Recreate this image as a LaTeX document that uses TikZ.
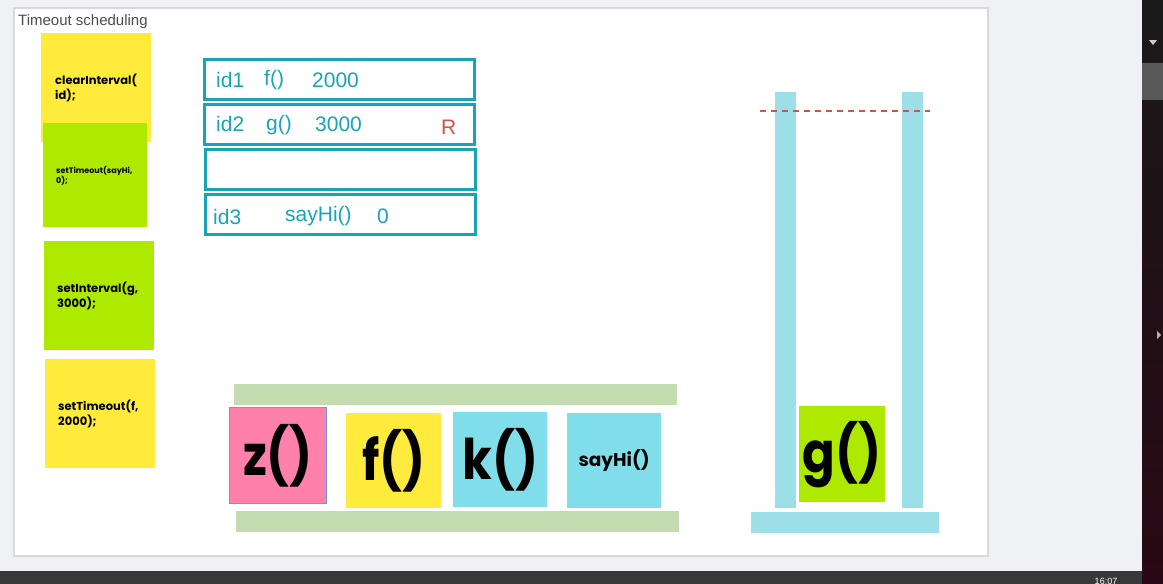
\documentclass[tikz,border=0pt]{standalone}
\usepackage{fontspec}
\setmainfont{Liberation Sans}
\newfontfamily\notefont{Poppins}
\newfontfamily\bigfont[FakeStretch=0.86]{Poppins}
\usetikzlibrary{positioning}

\definecolor{paper}{HTML}{EFF1F4}
\definecolor{sticky}{HTML}{FFEB3B}
\definecolor{lime}{HTML}{AEEA00}
\definecolor{slotcol}{HTML}{17A5B6}
\definecolor{pinky}{HTML}{FF80AB}
\definecolor{cyanbox}{HTML}{80DEEA}
\definecolor{sage}{HTML}{C5DCB0}
\definecolor{pillar}{HTML}{9DDFE8}
\definecolor{dashred}{HTML}{D0524B}

\tikzset{
  note/.style={anchor=north west, inner sep=0pt, minimum width=110, minimum height=109},
  notetext/.style={inner sep=0pt, align=left, font=\notefont\bfseries\fontsize{11.5}{15}\selectfont},
  slot/.style={anchor=north west, draw=slotcol, line width=3pt, minimum width=270, minimum height=40, inner sep=0pt},
  cell/.style={anchor=west, inner sep=0pt, text=slotcol, font=\fontsize{21}{22}\selectfont},
  fn/.style={anchor=north west, inner sep=0pt, minimum width=95, minimum height=95,
    font=\bigfont\bfseries\fontsize{56}{56}\selectfont}
}

\begin{document}
\begin{tikzpicture}[x=1pt,y=-1pt]
  \useasboundingbox (0,0) rectangle (1163,584);
  % screen around the board
  \fill[paper] (0,0) rectangle (1142,571);
  \shade[top color=black!90, bottom color={rgb,255:red,40;green,8;blue,20}] (1142,0) rectangle (1163,584);
  \fill[gray!70!black] (1142,63) rectangle (1163,100);
  \fill[white!80!black] (1149,40) -- (1157,40) -- (1153,45) -- cycle;
  \fill[white!70!black] (1157,331) -- (1161,335) -- (1157,339) -- cycle;
  \fill[black!78] (0,571) rectangle (1142,584);
  \node[text=white, font=\fontsize{9}{9}\selectfont, anchor=base] (clock) at (1106,584) {16:07};

  % board
  \filldraw[fill=white, draw=black!15, line width=1.2pt] (14,8) rectangle (988,556);
  \node[anchor=north west, inner sep=0pt, text=black!70, font=\fontsize{15}{15}\selectfont] (title) at (18,14) {Timeout scheduling};

  % sticky notes
  \node[note, fill=sticky] (clr) at (41,33) {};
  \node[notetext, right=14pt of clr.west] (clrt) {clearInterval(\\id);};
  \node[note, fill=lime, minimum width=104, minimum height=104] (say) at (43,123) {};
  \node[notetext, right=13pt of say.west, font=\notefont\bfseries\fontsize{8}{10}\selectfont] (sayt) {setTimeout(sayHi,\\0);};
  \node[note, fill=lime] (intv) at (44,241) {};
  \node[notetext, right=13pt of intv.west] (intvt) {setInterval(g,\\3000);};
  \node[note, fill=sticky] (tout) at (45,359) {};
  \node[notetext, right=13pt of tout.west] (toutt) {setTimeout(f,\\2000);};

  % timer table
  \node[slot] (r1) at (203,58) {};
  \node[slot] (r2) at (203,103) {};
  \node[slot] (r3) at (204,148) {};
  \node[slot] (r4) at (204,193) {};
  \node[cell] (id1) at (216,80) {id1};
  \node[cell] (f1) at (264,80) {f()};
  \node[cell] (t1) at (312,80) {2000};
  \node[cell] (id2) at (216,124) {id2};
  \node[cell] (g2) at (266,125) {g()};
  \node[cell] (t2) at (315,124) {3000};
  \node[cell, text=dashred] (rep) at (441,127) {R};
  \node[cell] (id3) at (213,217) {id3};
  \node[cell] (s3) at (285,216) {sayHi()};
  \node[cell] (t3) at (377,216) {0};

  % call stack
  \fill[sage] (234,384) rectangle (677,405);
  \fill[sage] (236,511) rectangle (679,532);
  \node[fn, fill=pinky, draw={rgb,255:red,110;green,150;blue,240}, line width=1pt, minimum width=97, minimum height=96] (z) at (229,407) {z()};
  \node[fn, fill=sticky] (f) at (346,413) {f()};
  \node[fn, fill=cyanbox, minimum width=94] (k) at (453,412) {k()};
  \node[fn, fill=cyanbox, minimum width=94, font=\notefont\bfseries\fontsize{18.5}{18.5}\selectfont] (hi) at (567,413) {sayHi()};

  % queue
  \fill[pillar] (775,92) rectangle (796,508);
  \fill[pillar] (902,92) rectangle (923,508);
  \fill[pillar] (751,512) rectangle (939,533);
  \draw[draw=dashred, dash pattern=on 6pt off 5pt, line width=1.2pt] (760,111) -- (930,111);
  \node[fn, fill=lime, minimum width=86, minimum height=96] (g) at (799,406) {g()};
\end{tikzpicture}
\end{document}
